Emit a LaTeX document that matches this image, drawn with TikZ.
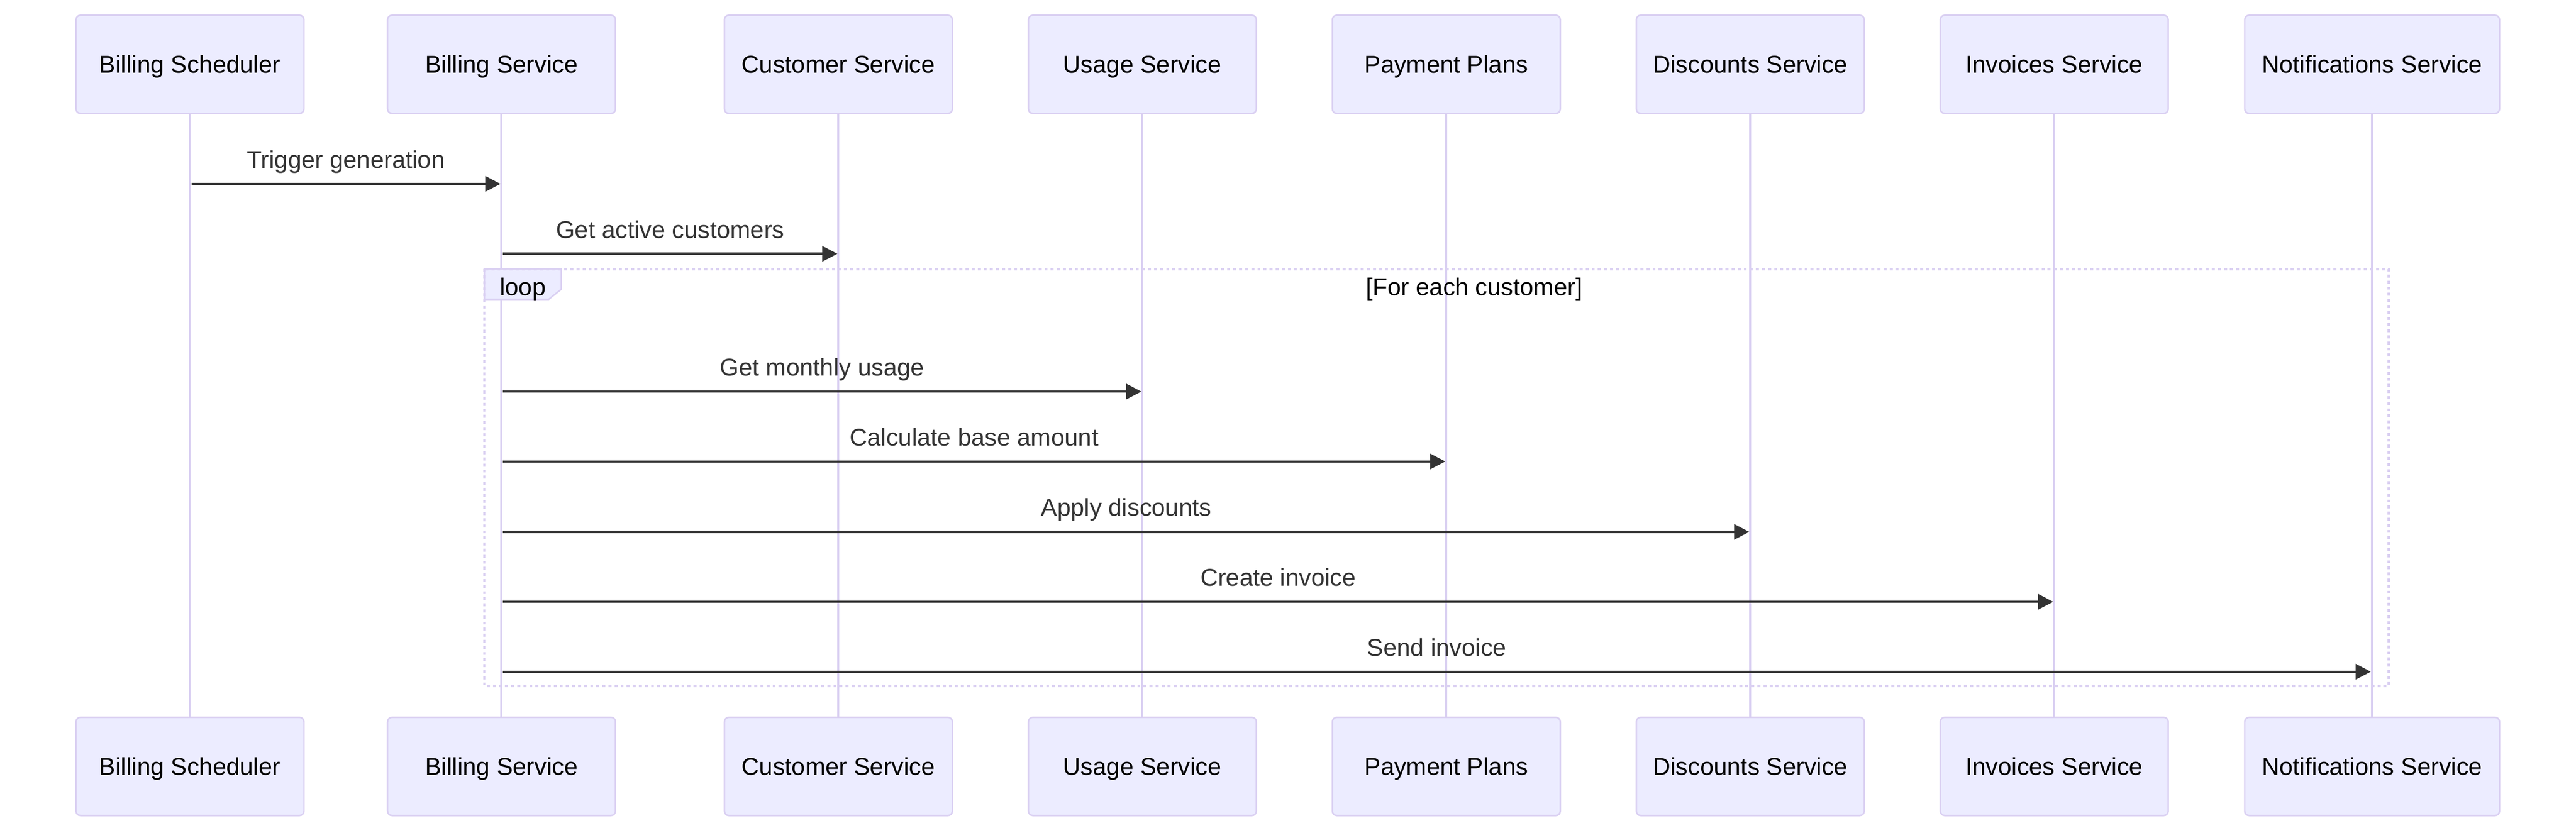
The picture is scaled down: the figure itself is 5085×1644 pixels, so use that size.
\documentclass[tikz,border=0pt]{standalone}
\usepackage{fontspec}
\setmainfont{Liberation Sans}
\usetikzlibrary{arrows.meta}
\definecolor{actbg}{HTML}{ECECFF}
\definecolor{actbd}{HTML}{DAD0F2}
\definecolor{msgc}{HTML}{333333}
\begin{document}
\begin{tikzpicture}[x=0.5pt,y=-0.5pt,
  actor/.style={draw=actbd, fill=actbg, line width=1.5pt, rounded corners=4.5pt,
    minimum height=97pt, minimum width=225pt, inner sep=0pt,
    font=\fontsize{24pt}{28pt}\selectfont, text=black, text height=17.2pt, text depth=0pt},
  life/.style={draw=actbd, line width=2pt},
  msg/.style={draw=msgc, line width=2.25pt, -{Triangle[length=15pt,width=15pt]}},
  msglabel/.style={midway, anchor=base, yshift=15.5pt, text=msgc, inner sep=0pt,
    font=\fontsize{24pt}{28pt}\selectfont},
  looptext/.style={anchor=base, text=black, inner sep=0pt, font=\fontsize{24pt}{28pt}\selectfont},
  loopframe/.style={draw=actbd, line width=2.5pt, dash pattern=on 3pt off 3pt},
  looptag/.style={draw=actbd, fill=actbg, line width=1.5pt}
]
\useasboundingbox (0,0) rectangle (5085,1644);
% actors top
\node[actor] (sT) at (375,127) {Billing Scheduler};
\node[actor] (bT) at (990,127) {Billing Service};
\node[actor] (cT) at (1655,127) {Customer Service};
\node[actor] (uT) at (2255,127) {Usage Service};
\node[actor] (pT) at (2855,127) {Payment Plans};
\node[actor] (dT) at (3455,127) {Discounts Service};
\node[actor] (iT) at (4055,127) {Invoices Service};
\node[actor, minimum width=251.5pt] (nT) at (4682.5,127) {Notifications Service};
% actors bottom
\node[actor] (sB) at (375,1513) {Billing Scheduler};
\node[actor] (bB) at (990,1513) {Billing Service};
\node[actor] (cB) at (1655,1513) {Customer Service};
\node[actor] (uB) at (2255,1513) {Usage Service};
\node[actor] (pB) at (2855,1513) {Payment Plans};
\node[actor] (dB) at (3455,1513) {Discounts Service};
\node[actor] (iB) at (4055,1513) {Invoices Service};
\node[actor, minimum width=251.5pt] (nB) at (4682.5,1513) {Notifications Service};
% lifelines
\foreach \a in {s,b,c,u,p,d,i,n}{\draw[life] (\a T.south) -- (\a B.north);}
% loop frame
\coordinate (lpA) at (956,531);
\coordinate (lpB) at (4715,1354);
\draw[looptag] (956,531) -- (1108,531) -- (1108,571) -- (1083,591) -- (956,591) -- cycle;
\draw[loopframe] (lpA) rectangle (lpB);
\node[looptext] (lpt) at (1032,583) {loop};
\node[looptext] (lpc) at (2910,583) {[For each customer]};
% messages
\coordinate (m1a) at (378,363);  \coordinate (m1b) at (988,363);
\coordinate (m2a) at (993,501);  \coordinate (m2b) at (1653,501);
\coordinate (m3a) at (993,773);  \coordinate (m3b) at (2253,773);
\coordinate (m4a) at (993,911);  \coordinate (m4b) at (2853,911);
\coordinate (m5a) at (993,1050); \coordinate (m5b) at (3453,1050);
\coordinate (m6a) at (993,1188); \coordinate (m6b) at (4053,1188);
\coordinate (m7a) at (993,1326); \coordinate (m7b) at (4680,1326);
\draw[msg] (m1a) -- node[msglabel] {Trigger generation} (m1b);
\draw[msg] (m2a) -- node[msglabel] {Get active customers} (m2b);
\draw[msg] (m3a) -- node[msglabel] {Get monthly usage} (m3b);
\draw[msg] (m4a) -- node[msglabel] {Calculate base amount} (m4b);
\draw[msg] (m5a) -- node[msglabel] {Apply discounts} (m5b);
\draw[msg] (m6a) -- node[msglabel] {Create invoice} (m6b);
\draw[msg] (m7a) -- node[msglabel] {Send invoice} (m7b);
\end{tikzpicture}
\end{document}
